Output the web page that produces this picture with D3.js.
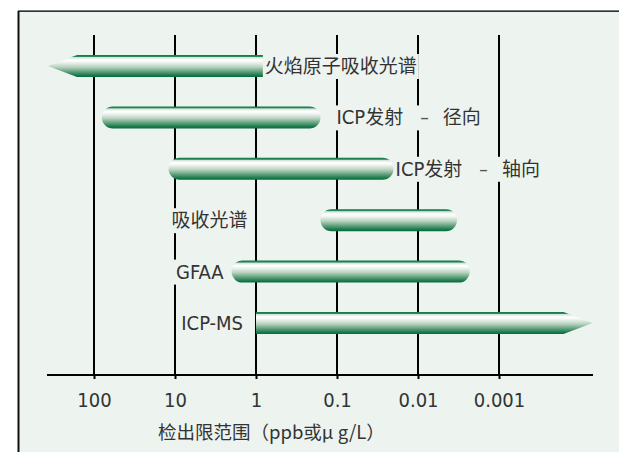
<!DOCTYPE html>
<html><head><meta charset="utf-8">
<script src="https://cdn.jsdelivr.net/npm/d3@7"></script>
<style>
html,body{margin:0;padding:0;background:#fff;}
svg{display:block;}
</style></head>
<body>
<svg id="c" width="619" height="452"></svg>
<script>
// ---- data ----
const techniques = ["火焰原子吸收光谱", "ICP发射 – 径向", "ICP发射 – 轴向", "吸收光谱", "GFAA", "ICP-MS"];
const upperLimit = [370, 80, 12, 0.16, 2, 1];          // left end (ppb)
const lowerLimit = [0.8, 0.16, 0.02, 0.0033, 0.0023, 0.00007]; // right end (ppb)
const leftCap  = ["arrow", "round", "round", "round", "round", "flat"];
const rightCap = ["flat", "round", "round", "round", "round", "arrow"];
const tickValues = [100, 10, 1, 0.1, 0.01, 0.001];
const tickLabels = ["100", "10", "1", "0.1", "0.01", "0.001"];
const axisTitle = "检出限范围（ppb或μ g/L）";

// ---- layout ----
const svg = d3.select("#c");
const panelFill = "#edf3ef";
const latinFont = "'Liberation Sans Narrow','DejaVu Sans Condensed','Roboto Condensed',sans-serif";
const cjkFont = "'Noto Sans CJK SC','Noto Sans CJK JP',sans-serif";

svg.append("rect").attr("x", 18).attr("y", 11).attr("width", 601).attr("height", 441).attr("fill", panelFill);
svg.append("line").attr("x1", 18).attr("x2", 619).attr("y1", 10.5).attr("y2", 10.5).attr("stroke", "#777").attr("stroke-width", 1);
svg.append("line").attr("x1", 18).attr("x2", 619).attr("y1", 11.5).attr("y2", 11.5).attr("stroke", "#333").attr("stroke-width", 1);
svg.append("line").attr("x1", 18.5).attr("x2", 18.5).attr("y1", 11).attr("y2", 452).attr("stroke", "#111").attr("stroke-width", 2);

const x = d3.scaleLog().domain([100, 0.001]).range([94, 499]);
const y = d3.scalePoint().domain(techniques).range([66, 323]);
const barH = 22;
const axisY = 375;

// gradient
const defs = svg.append("defs");
const grad = defs.append("linearGradient").attr("id", "barGrad").attr("x1", 0).attr("x2", 0).attr("y1", 0).attr("y2", 1);
[[0, "#0e7548"], [0.07, "#2a8a5c"], [0.11, "#d2e2d7"], [0.22, "#ffffff"], [0.32, "#f2f7f3"], [0.55, "#b6d1be"], [0.78, "#559a74"], [0.92, "#1a7a4c"], [1, "#076b3d"]]
  .forEach(([o, c]) => grad.append("stop").attr("offset", o).attr("stop-color", c));

// gridlines
svg.append("g").selectAll("line").data(tickValues).join("line")
  .attr("x1", d => x(d)).attr("x2", d => x(d))
  .attr("y1", 35).attr("y2", axisY)
  .attr("stroke", "#000").attr("stroke-width", 2);

// axis
const axis = d3.axisBottom(x).tickValues(tickValues).tickFormat((d, i) => tickLabels[i]).tickSize(4).tickPadding(14);
const ag = svg.append("g").attr("transform", `translate(0,${axisY})`).call(axis);
ag.select(".domain").remove();
ag.selectAll(".tick line").attr("stroke", "#000").attr("stroke-width", 2);
ag.selectAll(".tick text").attr("fill", "#333").attr("font-family", latinFont).attr("font-size", 20);
svg.append("line").attr("x1", 47).attr("x2", 593).attr("y1", axisY).attr("y2", axisY).attr("stroke", "#000").attr("stroke-width", 2);

svg.append("text").attr("x", 158).attr("y", 439).attr("fill", "#333")
  .attr("font-family", cjkFont).attr("font-size", 18.5).text(axisTitle);

// bars
function barPath(i) {
  const cy = y(techniques[i]);
  const t = cy - barH / 2, b = cy + barH / 2, r = barH / 2;
  const xl = x(upperLimit[i]), xr = x(lowerLimit[i]);
  const arrowLen = 29;
  const p = d3.path();
  let startX;
  if (leftCap[i] === "arrow") startX = xl + arrowLen;
  else if (leftCap[i] === "round") startX = xl + r;
  else startX = xl;
  let endX;
  if (rightCap[i] === "arrow") endX = xr - arrowLen;
  else if (rightCap[i] === "round") endX = xr - r;
  else endX = xr;
  p.moveTo(startX, t);
  p.lineTo(endX, t);
  if (rightCap[i] === "arrow") { p.lineTo(xr, cy); p.lineTo(endX, b); }
  else if (rightCap[i] === "round") { p.arc(endX, cy, r, -Math.PI / 2, Math.PI / 2, false); }
  else { p.lineTo(endX, b); }
  p.lineTo(startX, b);
  if (leftCap[i] === "arrow") { p.lineTo(xl, cy); p.lineTo(startX, t); }
  else if (leftCap[i] === "round") { p.arc(startX, cy, r, Math.PI / 2, 3 * Math.PI / 2, false); }
  else { p.lineTo(startX, t); }
  p.closePath();
  return p.toString();
}

svg.append("g").selectAll("path").data(techniques).join("path")
  .attr("d", (d, i) => barPath(i))
  .attr("fill", "url(#barGrad)");

// labels
const labelGap = [1, 16, 2, 73, 8, 13]; // distance between bar end and label
const labelG = svg.append("g");
techniques.forEach((name, i) => {
  const cy = y(name);
  const onLeft = upperLimit[i] < 10;
  const g = labelG.append("g");
  const bg = g.append("rect").attr("fill", panelFill);
  const txt = g.append("text").attr("y", cy + 7).attr("fill", "#333").attr("font-size", 19);
  const parts = name.split(" – ");
  parts.forEach((part, k) => {
    if (k > 0) {
      txt.append("tspan").attr("dx", 17).attr("font-family", latinFont).attr("fill", "#555").text("–");
    }
    const runs = part.match(/[A-Za-z\-]+|[^A-Za-z\-]+/g);
    runs.forEach((run, j) => {
      const isLatin = /[A-Za-z]/.test(run);
      const ts = txt.append("tspan")
        .attr("font-family", isLatin ? latinFont : cjkFont)
        .attr("font-size", isLatin ? 20 : 19)
        .text(run);
      if (k > 0 && j === 0) ts.attr("dx", 14);
    });
  });
  const w = txt.node().getComputedTextLength();
  const tx = onLeft ? x(upperLimit[i]) - labelGap[i] - w : x(lowerLimit[i]) + labelGap[i];
  txt.attr("x", tx);
  bg.attr("x", tx - 2).attr("y", cy - 12).attr("width", w + 4).attr("height", 25);
});
</script>
</body></html>
